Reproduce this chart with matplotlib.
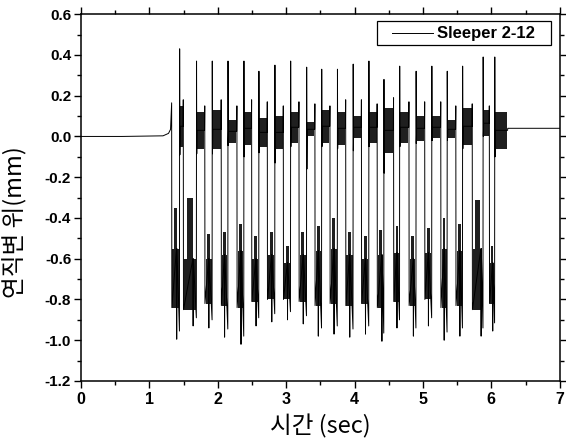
import numpy as np
import matplotlib
matplotlib.use('Agg')
import matplotlib.pyplot as plt
from matplotlib.ticker import MultipleLocator, FormatStrFormatter
from matplotlib.patches import Rectangle

plt.rcParams['font.family'] = ['Liberation Sans', 'Noto Sans CJK KR', 'DejaVu Sans']

# ---- values ----
# quiet baseline before the train arrives, and the settled tail afterwards
base_t = [0.0, 0.60, 1.20, 1.28, 1.31]
base_v = [0.0, 0.0, 0.003, 0.015, 0.035]
tail_t = [6.24, 6.60, 7.0]
tail_v = [0.04, 0.04, 0.04]

# drop into the loaded state (small spike just before it)
dn_t = [1.326, 1.496, 1.81, 2.05, 2.28, 2.495, 2.724, 2.958, 3.187, 3.42, 3.64,
        3.87, 4.10, 4.33, 4.57, 4.795, 5.025, 5.26, 5.48, 5.72, 5.97]
dn_peak = [0.165, 0.18, 0.15, 0.18, 0.15, 0.18, 0.17, 0.15, 0.17, 0.16, 0.15,
           0.18, 0.18, 0.16, 0.19, 0.17, 0.17, 0.17, 0.15, 0.16, 0.15]
# loaded state: deepest stroke, its time, cluster top / dense core
lo_min_t = [1.40, 1.64, 1.87, 2.10, 2.34, 2.56, 2.79, 3.02, 3.25, 3.47, 3.70,
            3.93, 4.16, 4.40, 4.62, 4.86, 5.08, 5.31, 5.54, 5.85, 6.02]
lo_min = [-0.995, -0.93, -0.94, -0.985, -1.02, -0.93, -0.91, -0.90, -0.92, -0.98, -0.97,
          -0.985, -0.97, -1.005, -0.94, -0.98, -0.93, -1.0, -0.98, -0.98, -0.955]
lo_hi = [-0.35, -0.30, -0.48, -0.47, -0.43, -0.49, -0.47, -0.54, -0.47, -0.44, -0.40,
         -0.47, -0.49, -0.46, -0.44, -0.49, -0.45, -0.40, -0.43, -0.31, -0.54]
lo_core = [-0.55, -0.60, -0.60, -0.58, -0.56, -0.60, -0.58, -0.62, -0.58, -0.56, -0.55,
           -0.58, -0.60, -0.58, -0.57, -0.60, -0.57, -0.55, -0.56, -0.55, -0.62]
lo_lo = [-0.84, -0.85, -0.82, -0.83, -0.84, -0.81, -0.80, -0.80, -0.81, -0.83, -0.82,
         -0.83, -0.82, -0.84, -0.81, -0.83, -0.80, -0.84, -0.83, -0.85, -0.82]
# jump back up (tall spike) and the unloaded cluster that follows
up_t = [1.443, 1.69, 1.92, 2.15, 2.383, 2.602, 2.836, 3.066, 3.30, 3.52, 3.75,
        3.98, 4.21, 4.43, 4.66, 4.90, 5.13, 5.355, 5.58, 5.88, 6.05]
up_peak = [0.43, 0.37, 0.37, 0.37, 0.37, 0.32, 0.35, 0.37, 0.34, 0.33, 0.33,
           0.355, 0.37, 0.28, 0.345, 0.32, 0.345, 0.32, 0.345, 0.39, 0.39]
up_dip = [-0.09, -0.085, -0.085, -0.045, -0.10, -0.08, -0.13, -0.05, -0.16, -0.05, -0.06,
          -0.07, -0.05, -0.18, -0.05, -0.035, -0.02, -0.02, -0.06, 0.0, -0.10]
up_hi = [0.15, 0.12, 0.13, 0.08, 0.12, 0.09, 0.10, 0.12, 0.07, 0.13, 0.12,
         0.10, 0.12, 0.14, 0.12, 0.10, 0.10, 0.08, 0.14, 0.13, 0.12]
up_lo = [-0.05, -0.06, -0.06, -0.03, -0.04, -0.05, -0.06, -0.03, 0.0, -0.03, -0.04,
         -0.01, -0.03, -0.08, -0.03, -0.02, -0.01, -0.01, -0.04, 0.0, -0.06]

# ---- assemble the trace ----
t, v = list(base_t), list(base_v)
blocks = []   # (x0, x1, y0, y1) dense oscillation regions
for i in range(len(dn_t)):
    end_up = dn_t[i + 1] if i + 1 < len(dn_t) else tail_t[0]
    mid = (up_hi[i] + up_lo[i]) / 2
    t += [dn_t[i], dn_t[i] + 0.003, lo_min_t[i] - 0.003, lo_min_t[i], lo_min_t[i] + 0.003,
          up_t[i] - 0.003, up_t[i], up_t[i] + 0.003, up_t[i] + 0.007, end_up - 0.003]
    v += [dn_peak[i], lo_lo[i], lo_core[i], lo_min[i], lo_core[i],
          lo_min[i] + 0.04, up_peak[i], up_dip[i], mid, mid]
    x0, x1 = dn_t[i] + 0.012, up_t[i] - 0.010
    w = x1 - x0
    blocks.append((x0, x1, lo_lo[i], lo_core[i]))
    blocks.append((x0 + 0.25 * w, x1 - 0.25 * w, lo_core[i], lo_hi[i]))
    blocks.append((up_t[i] + 0.006, end_up - 0.008, up_lo[i], up_hi[i]))
t += tail_t
v += tail_v

fig = plt.figure(figsize=(5.66, 4.43), dpi=100)
ax = fig.add_axes([0.143, 0.14, 0.846, 0.828])
ax.plot(t, v, color='black', lw=0.7)
for x0, x1, y0, y1 in blocks:
    ax.fill_between([x0, x1], y0, y1, color='black', lw=0, alpha=0.88)

ax.set_xlim(0, 7)
ax.set_ylim(-1.2, 0.6)
ax.xaxis.set_major_locator(MultipleLocator(1))
ax.xaxis.set_minor_locator(MultipleLocator(0.5))
ax.yaxis.set_major_locator(MultipleLocator(0.2))
ax.yaxis.set_minor_locator(MultipleLocator(0.1))
ax.yaxis.set_major_formatter(FormatStrFormatter('%.1f'))
ax.tick_params(which='both', direction='out', top=True, right=True, width=1)
ax.tick_params(which='major', length=5, labelsize=11, pad=2)
ax.tick_params(axis='x', which='major', labelsize=11.5, pad=3)
ax.tick_params(which='minor', length=3)
for lab in ax.get_xticklabels() + ax.get_yticklabels():
    lab.set_fontweight('bold')
for s in ax.spines.values():
    s.set_linewidth(1.1)

ax.set_xlabel('시간 (sec)', fontsize=17, family=['Noto Sans CJK KR', 'DejaVu Sans'], labelpad=5)
ax.set_ylabel('연직변 위(mm)', fontsize=17, family=['Noto Sans CJK KR', 'DejaVu Sans'])
ax.yaxis.set_label_coords(-0.112, 0.434)

# legend box (drawn by hand to match the original padding)
ax.add_patch(Rectangle((0.618, 0.916), 0.363, 0.065, transform=ax.transAxes,
                       facecolor='white', edgecolor='black', lw=0.9, zorder=5))
ax.plot([0.649, 0.735], [0.948, 0.948], transform=ax.transAxes, color='black', lw=0.7, zorder=6)
ax.text(0.743, 0.948, 'Sleeper 2-12', transform=ax.transAxes, fontsize=12, fontweight='bold',
        va='center', ha='left', zorder=6)

fig.savefig('out.png', dpi=100)
